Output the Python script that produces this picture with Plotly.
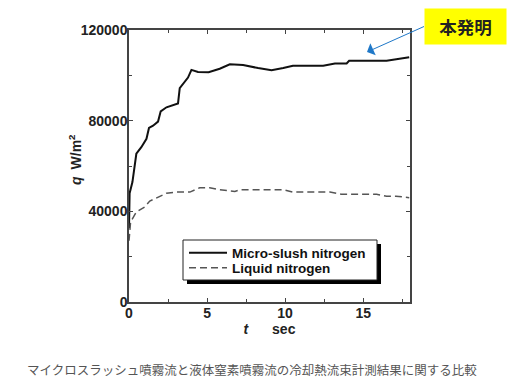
import plotly.graph_objects as go

# Micro-slush nitrogen (solid)
t_slush = [0.0, 0.0, 0.04, 0.22, 0.47, 0.79, 1.12, 1.28, 1.54, 1.86, 2.03, 2.4, 3.14, 3.25,
           3.78, 4.0, 4.42, 5.1, 5.81, 6.46, 7.31, 8.27, 9.13, 9.88, 10.5, 12.44, 13.19,
           13.94, 14.1, 16.5, 17.95]
q_slush = [32500, 44000, 48000, 52900, 65400, 68300, 72000, 76800, 77800, 79600, 84100, 85900,
           87600, 94400, 99000, 102400, 101500, 101400, 102900, 104900, 104600, 103200, 102300,
           103200, 104200, 104200, 105200, 105200, 106400, 106400, 108000]

# Liquid nitrogen (dashed)
t_liquid = [0.0, 0.1, 0.47, 1.0, 1.33, 1.86, 2.4, 3.04, 3.9, 4.53, 5.17, 5.81, 6.78, 7.1,
            9.88, 10.5, 12.87, 13.6, 15.86, 16.5, 17.1, 17.95]
q_liquid = [27000, 35300, 39700, 41900, 44500, 46300, 48000, 48500, 48500, 50400, 50400,
            49500, 48800, 49500, 49500, 48500, 48500, 47500, 47500, 46700, 46700, 46000]

x_ticks = [0, 5, 10, 15]
y_ticks = [0, 40000, 80000, 120000]

series_names = ["Micro-slush nitrogen", "Liquid nitrogen"]
caption = "マイクロスラッシュ噴霧流と液体窒素噴霧流の冷却熱流束計測結果に関する比較"
callout = "本発明"

# page has an 8px body margin; figure coordinates = page coordinates - 8
OFF = 8
W, H = 520, 380
L, R, T, B = 121, 118, 22, 86
pw, ph = W - L - R, H - T - B

def px(xp):   # page x -> paper
    return (xp - OFF - L) / pw

def py(yp):   # page y -> paper
    return (H - B - (yp - OFF)) / ph

fig = go.Figure()
fig.add_trace(go.Scatter(x=t_slush, y=q_slush, mode="lines", name=series_names[0],
                         line=dict(color="#111111", width=2), legend="legend"))
fig.add_trace(go.Scatter(x=t_liquid, y=q_liquid, mode="lines", name=series_names[1],
                         line=dict(color="#555555", width=1.5, dash="7px,4px"), legend="legend2"))

tickfont = dict(family="Liberation Sans, Arial", size=14, color="#222222", weight="bold")
axis_common = dict(showline=True, linecolor="#444444", linewidth=1.5, mirror="ticks",
                   ticks="inside", ticklen=4, tickcolor="#444444", tickwidth=1,
                   showgrid=False, zeroline=False, tickfont=tickfont, ticklabelstandoff=-3)

fig.update_xaxes(range=[0, 18], tickvals=x_ticks, ticktext=[str(v) for v in x_ticks],
                 minor=dict(dtick=2.5, tick0=0, ticks="inside", ticklen=3, tickcolor="#444444"),
                 title=dict(text="<i>t</i>\u2003\u2002\u2009sec",
                            font=dict(family="Liberation Sans, Arial", size=14, color="#222222", weight="bold"),
                            standoff=2),
                 **axis_common)
fig.update_yaxes(range=[0, 120000], tickvals=y_ticks, ticktext=[str(v) for v in y_ticks],
                 minor=dict(dtick=20000, tick0=0, ticks="inside", ticklen=3, tickcolor="#444444"),
                 **axis_common)

# y-axis title as rotated annotation
fig.add_annotation(x=px(75), y=py(160), xref="paper", yref="paper",
                   text="<i>q</i>\u2002W/m<sup>2</sup>", showarrow=False, textangle=-90,
                   xanchor="center", yanchor="middle",
                   font=dict(family="Liberation Sans, Arial", size=14, color="#222222", weight="bold"))

# legend frame with shadow (pixels on page)
lx0, ly0, lx1, ly1 = 183, 240, 377, 280
fig.add_shape(type="rect", xref="paper", yref="paper",
              x0=px(lx0 + 4), x1=px(lx1 + 4), y0=py(ly1 + 4), y1=py(ly0 + 4),
              fillcolor="#000000", line=dict(width=0), layer="above")
fig.add_shape(type="rect", xref="paper", yref="paper",
              x0=px(lx0), x1=px(lx1), y0=py(ly1), y1=py(ly0),
              fillcolor="white", line=dict(color="#222222", width=1), layer="above")

legfont = dict(family="Liberation Sans, Arial", size=13.5, color="#111111", weight="bold")
fig.update_layout(
    width=W, height=H,
    margin=dict(l=L, r=R, t=T, b=B, autoexpand=False),
    paper_bgcolor="white", plot_bgcolor="white",
    showlegend=True,
    legend=dict(x=px(184), y=py(253), xanchor="left", yanchor="middle",
                bgcolor="rgba(0,0,0,0)", borderwidth=0, font=legfont, itemwidth=38),
    legend2=dict(x=px(184), y=py(268), xanchor="left", yanchor="middle",
                 bgcolor="rgba(0,0,0,0)", borderwidth=0, font=legfont, itemwidth=38),
)

# callout box with arrow; arrow tail at the box's left-middle edge
tip_x, tip_y = 367, 52          # page pixels of arrow tip
box_left, box_mid = 424, 26.5   # page pixels
fig.add_annotation(x=(tip_x - OFF - L) / pw * 18, y=(H - B - (tip_y - OFF)) / ph * 120000,
                   xref="x", yref="y",
                   text="<b>" + callout + "</b>", showarrow=True,
                   ax=box_left - tip_x, ay=box_mid - tip_y, axref="pixel", ayref="pixel",
                   xanchor="left", yanchor="middle",
                   arrowhead=1, arrowsize=2.2, arrowwidth=1, arrowcolor="#1f78c8", standoff=0,
                   bgcolor="#ffff00", width=81, height=35, borderpad=0,
                   font=dict(family="Noto Sans CJK JP", size=17.5, color="#222222"))

# caption
fig.add_annotation(x=px(251.5), y=py(369), xref="paper", yref="paper",
                   text=caption, showarrow=False, xanchor="center", yanchor="middle",
                   font=dict(family="Noto Sans CJK JP", size=12.5, color="#555555"))

fig.write_html("out.html")
